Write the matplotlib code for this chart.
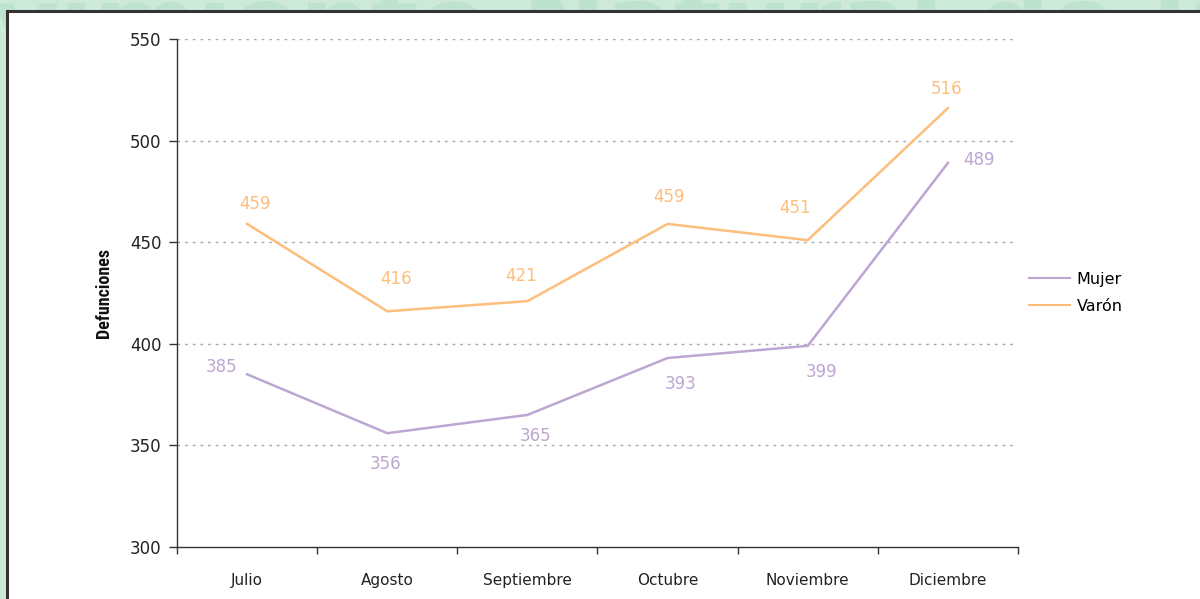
import matplotlib
matplotlib.use("Agg")
import matplotlib.pyplot as plt
from matplotlib.patches import Rectangle
from matplotlib import font_manager

months = ["Julio", "Agosto", "Septiembre", "Octubre", "Noviembre", "Diciembre"]
mujer = [385, 356, 365, 393, 399, 489]
varon = [459, 416, 421, 459, 451, 516]
series_names = ["Mujer", "Varón"]
yticks = [300, 350, 400, 450, 500, 550]

# label offsets in pixels (styling)
mujer_off = [(-26, 7), (-2, -31), (8, -21), (13, -26), (14, -26), (31, 3)]
varon_off = [(8, 20), (9, 32), (-6, 25), (1, 27), (-13, 32), (-1, 19)]

C_MUJER = "#BCA6D2"
C_VARON = "#FDBE7C"
BG = "#CDE9DA"

names = {f.name for f in font_manager.fontManager.ttflist}
narrow = "DejaVu Sans"
for cand in ["Liberation Sans Narrow", "DejaVu Sans Condensed", "Roboto Condensed", "Open Sans Condensed"]:
    if cand in names:
        narrow = cand
        break
plt.rcParams["font.family"] = ["DejaVu Sans"]

fig = plt.figure(figsize=(12, 5.99), dpi=100)
fig.patch.set_facecolor(BG)

# watermark header text (partly hidden behind the panel)
fig.text(-0.005, 1 - 58 / 599, "vimiento Natural de la Población", fontsize=72, fontweight="bold",
         color="#BDE2CF", ha="left", va="baseline", zorder=0)

# white panel
panel = Rectangle((7 / 1200, -0.02), 1.02, (599 - 11) / 599 + 0.02, transform=fig.transFigure,
                  facecolor="white", edgecolor="#333333", linewidth=2.2, zorder=1)
fig.patches.append(panel)

ax = fig.add_axes([177 / 1200, 1 - 547 / 599, (1018 - 177) / 1200, (547 - 39) / 599])
ax.set_zorder(2)
ax.patch.set_alpha(0)

x = list(range(len(months)))
ax.plot(x, mujer, color=C_MUJER, lw=1.8, label=series_names[0], solid_joinstyle="miter")
ax.plot(x, varon, color=C_VARON, lw=1.8, label=series_names[1], solid_joinstyle="miter")

for xi, v, (dx, dy) in zip(x, mujer, mujer_off):
    ax.annotate(str(v), (xi, v), xytext=(dx, dy), textcoords="offset pixels",
                ha="center", va="center", color=C_MUJER, fontsize=12)
for xi, v, (dx, dy) in zip(x, varon, varon_off):
    ax.annotate(str(v), (xi, v), xytext=(dx, dy), textcoords="offset pixels",
                ha="center", va="center", color=C_VARON, fontsize=12)

ax.set_xlim(-0.5, len(months) - 0.5)
ax.set_ylim(300, 550)
ax.set_yticks(yticks)
ax.set_yticklabels([str(t) for t in yticks], fontsize=12, color="#222222")
ax.set_xticks(x)
ax.set_xticklabels(months, fontsize=11, color="#222222")
ax.set_xticks([i - 0.5 for i in range(len(months) + 1)], minor=True)
ax.tick_params(axis="x", which="major", length=0, pad=19)
ax.tick_params(axis="x", which="minor", length=5, width=1, color="#333333", direction="out")
ax.tick_params(axis="y", length=6, width=1, color="#333333", direction="out", pad=5)

for y in yticks[1:]:
    ax.axhline(y, color="#aaaaaa", lw=1, ls=(0, (2, 3.5)), xmax=(1015 - 177) / (1018 - 177), zorder=0)

for s in ["top", "right"]:
    ax.spines[s].set_visible(False)
for s in ["left", "bottom"]:
    ax.spines[s].set_color("#333333")
    ax.spines[s].set_linewidth(1)

ax.set_ylabel("Defunciones", fontsize=13, fontweight="bold", family=narrow, color="#111111", labelpad=12)

leg = ax.legend(loc="center left", bbox_to_anchor=(1.005, 0.5), frameon=False, fontsize=11.5,
                handlelength=2.6, handletextpad=0.4, labelspacing=0.75, borderaxespad=0)
for h in leg.get_lines():
    h.set_linewidth(1.5)

fig.savefig("out.png", dpi=100, facecolor=fig.get_facecolor())
